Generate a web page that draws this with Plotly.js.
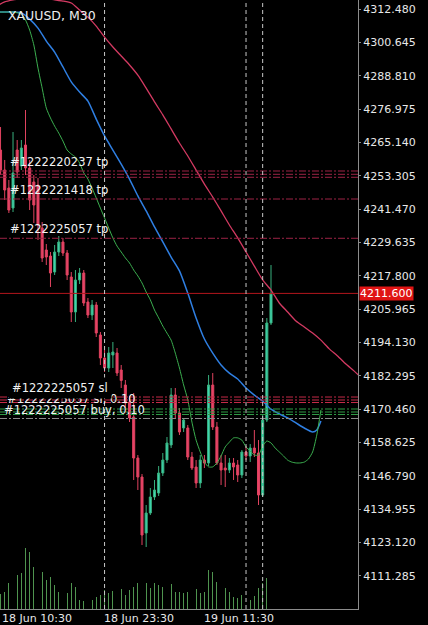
<!DOCTYPE html>
<html><head><meta charset="utf-8">
<script src="https://cdn.plot.ly/plotly-3.0.1.min.js"></script>
<style>html,body{margin:0;padding:0;background:#000;}#chart{width:428px;height:625px;}</style>
</head><body><div id="chart"></div>
<script>
const symbolTitle = 'XAUUSD, M30';

// OHLC per M30 bar (first bar is partly cut at the left edge)
const open = [4262.52,4255.42,4249.02,4241.92,4262.52,4256.84,4264.29,4256.13,4251.16,4250.09,4234.82,4227.01,4224.88,4219.20,4226.30,4229.85,4225.94,4217.42,4205.00,4216.36,4218.84,4208.55,4203.93,4207.48,4196.83,4188.66,4185.11,4189.73,4190.44,4184.40,4179.07,4173.04,4167.71,4153.15,4146.41,4126.52,4133.62,4139.31,4140.73,4147.83,4152.44,4157.77,4175.52,4169.13,4163.81,4163.81,4153.51,4149.96,4144.28,4152.44,4151.38,4179.07,4164.16,4151.38,4149.60,4148.89,4151.38,4150.67,4147.12,4155.28,4153.86,4156.70,4154.93,4140.02,4166.65,4201.09];
const high = [4270.68,4258.97,4251.87,4268.91,4266.07,4266.07,4276.72,4258.97,4253.64,4252.58,4236.95,4229.14,4226.30,4228.79,4231.98,4231.27,4227.01,4219.20,4219.91,4220.62,4219.91,4209.97,4209.26,4208.55,4197.89,4191.50,4192.57,4194.34,4192.21,4186.18,4180.85,4175.17,4176.23,4154.22,4147.47,4136.46,4142.50,4145.34,4150.31,4154.93,4160.61,4178.01,4178.01,4170.91,4167.36,4164.87,4155.28,4152.44,4154.22,4154.22,4182.62,4183.33,4165.94,4154.22,4154.22,4153.15,4153.15,4152.44,4155.99,4157.41,4158.12,4163.10,4159.54,4168.42,4202.86,4221.68];
const low = [4253.64,4244.76,4240.15,4240.50,4252.58,4255.42,4253.64,4241.21,4236.60,4230.56,4222.75,4221.68,4213.87,4218.13,4224.88,4224.88,4216.36,4201.44,4201.44,4214.94,4207.13,4202.86,4202.15,4196.12,4186.18,4183.69,4183.69,4185.11,4182.27,4178.01,4170.91,4165.94,4145.34,4141.79,4122.26,4121.55,4132.91,4138.24,4139.66,4146.76,4151.38,4156.70,4167.36,4161.32,4162.39,4152.44,4148.89,4142.50,4142.50,4149.60,4150.31,4163.10,4150.67,4143.57,4142.86,4147.83,4145.34,4144.63,4146.05,4152.44,4151.73,4153.51,4136.46,4139.31,4165.94,4200.38];
const close = [4255.42,4248.31,4241.21,4254.35,4254.71,4263.23,4256.13,4244.76,4242.99,4235.89,4224.17,4224.52,4218.84,4226.30,4229.85,4225.94,4218.13,4205.00,4216.36,4218.84,4208.19,4203.93,4207.48,4197.54,4188.66,4185.11,4190.44,4190.79,4183.33,4180.68,4172.68,4167.36,4153.15,4146.41,4125.81,4133.62,4139.31,4141.79,4147.83,4152.44,4158.48,4175.52,4169.13,4162.39,4166.65,4153.51,4149.60,4144.28,4152.44,4151.38,4179.07,4164.16,4151.38,4148.89,4148.89,4151.38,4149.96,4147.12,4155.28,4153.86,4156.70,4154.93,4140.02,4166.65,4201.09,4211.60];
const tickVolume = [1500,1730,2600,2400,3400,3600,6100,5700,4200,3700,3700,2900,3200,2400,1700,1600,1600,2600,2200,900,800,700,900,1200,1400,1900,1600,1800,1400,2000,1400,1900,2200,2600,2500,2600,2100,2600,2400,2200,1900,2500,1700,1700,1600,1700,1800,2000,1600,1700,3900,3700,2700,2400,2100,1700,1200,1100,1400,1600,900,1300,2100,2600,3100,800];

// Moving averages (shifted forward, so they run past the last bar)
const maRedBars = [-2,0,2,4,6,8,10,12,14,16,18,20,22,24,26,28,30,32,34,36,38,40,42,44,46,48,50,52,54,56,58,60,62,64,66,68,70,72,74,76,78,80,82,84,86];
const maRedValues = [4313.6,4315.1,4315.8,4316.3,4317.2,4317.2,4316.5,4315.8,4315.4,4314.7,4312.2,4309.7,4306.5,4302.6,4299.1,4295.9,4292.7,4289.1,4284.5,4279.6,4275.0,4270.0,4265.0,4260.4,4255.4,4250.4,4245.8,4240.9,4235.9,4231.3,4226.3,4221.3,4216.4,4212.8,4208.2,4205.0,4201.8,4199.7,4197.5,4195.0,4191.9,4189.4,4186.5,4184.0,4181.2];
const maBlueBars = [-2,0,2,4,6,8,10,12,14,16,18,20,22,24,26,28,30,32,34,36,38,40,42,44,46,48,50,52,54,56,58,60,62,64,66,68,70,72,74,75,76];
const maBlueValues = [4311.5,4311.5,4311.5,4311.2,4309.0,4305.8,4301.2,4297.3,4292.0,4286.7,4283.1,4279.9,4273.5,4267.5,4262.5,4257.5,4252.2,4246.2,4240.9,4235.2,4229.9,4224.5,4219.6,4211.7,4202.9,4195.4,4190.4,4186.2,4183.3,4181.2,4178.0,4175.5,4173.4,4170.5,4168.8,4167.4,4165.6,4163.8,4162.4,4163.1,4166.3];
const maGreenBars = [-2,0,2,4,5,6,7,8,9,10,11,12,13,14,15,16,17,18,19,20,21,22,23,24,25,26,27,28,29,30,31,32,33,34,35,36,37,38,39,40,41,42,43,44,45,46,47,48,49,50,51,52,53,54,55,56,57,58,59,60,61,62,63,64,65,66,67,68,69,70,71,72,73,74,75,76];
const maGreenValues = [4311.5,4311.5,4311.5,4310.8,4308.7,4305.1,4299.8,4291.6,4284.5,4277.4,4273.9,4271.0,4268.5,4265.7,4262.5,4261.1,4260.0,4257.9,4254.4,4252.2,4249.0,4245.5,4241.9,4238.4,4234.8,4231.3,4228.4,4226.3,4224.2,4222.4,4219.9,4217.8,4215.3,4212.1,4209.3,4205.7,4202.9,4200.0,4197.5,4195.0,4190.4,4185.1,4179.1,4173.8,4165.9,4159.5,4155.3,4151.7,4150.0,4150.0,4151.4,4153.9,4157.1,4158.8,4160.3,4160.3,4159.5,4157.1,4155.6,4154.2,4154.2,4157.4,4159.2,4158.5,4156.7,4155.3,4153.9,4152.4,4151.7,4151.4,4151.4,4151.7,4152.8,4155.3,4161.3,4170.2];

// Axis labels
const priceTicks = [4111.285,4123.120,4134.955,4146.790,4158.625,4170.460,4182.295,4194.130,4205.965,4217.800,4229.635,4241.470,4253.305,4265.140,4276.975,4288.810,4300.645,4312.480];
const timeLabels = ['18 Jun 10:30','18 Jun 23:30','19 Jun 11:30'];
const timeLabelBars = [-2, 24, 48];
const separatorBars = [24, 58, 62];

// Trade levels
const tpLevels = [4255.06, 4253.89, 4252.83, 4245.12, 4231.17];
const slLevels = [4174.81, 4173.75, 4172.86];
const orderLevels = [4170.55, 4169.49, 4168.60];
const entryLevel = 4167.18;
const bidPrice = 4211.60;
const tradeLabelTexts = ['#1222220237 tp','#1222221418 tp','#1222225057 tp','#1222225057 sl, 0.10','#1222225057 buy, 0.10','#1222225057 sl'];
const tradeLabelLevels = [4255.06, 4245.12, 4231.17, 4170.55, 4167.18, 4174.81];

const X0 = -1.13, X1 = 84.91, Y0 = 4099.54, Y1 = 4315.78;
const PW = 358;
const barX = open.map((_, k) => k - 1);
const FONT = 'DejaVu Sans';

const traces = [
  {type:'bar', x:barX, y:tickVolume, yaxis:'y2', width:0.2,
   marker:{color:'#4f944f', line:{width:0}}, hoverinfo:'skip'},
  {type:'candlestick', x:barX, open:open, high:high, low:low, close:close,
   whiskerwidth:0,
   increasing:{line:{color:'#38b07e', width:1}, fillcolor:'#3fd6b4'},
   decreasing:{line:{color:'#e0435f', width:1}, fillcolor:'#e8436a'},
   hoverinfo:'skip'},
  {type:'scatter', mode:'lines', x:maRedBars, y:maRedValues,
   line:{color:'#d33a62', width:1.3, shape:'spline', smoothing:0.6}, hoverinfo:'skip'},
  {type:'scatter', mode:'lines', x:maBlueBars, y:maBlueValues,
   line:{color:'#2f7fe2', width:1.5, shape:'spline', smoothing:0.6}, hoverinfo:'skip'},
  {type:'scatter', mode:'lines', x:maGreenBars, y:maGreenValues,
   line:{color:'#3cb050', width:1, shape:'spline', smoothing:0.6}, hoverinfo:'skip'}
];

const shapes = [];
function hline(level, color, dash, width) {
  shapes.push({type:'line', xref:'paper', x0:0, x1:1, yref:'y', y0:level, y1:level,
    line:{color:color, width:width||1, dash:dash}});
}
tpLevels.forEach(l => hline(l, '#9c2345', '7px,2px,2px,2px'));
slLevels.forEach(l => hline(l, '#c62a48', '7px,2px,2px,2px'));
orderLevels.forEach(l => hline(l, '#2f9a45', '7px,2px,2px,2px'));
hline(entryLevel, '#8a8a8a', '7px,2px,2px,2px');
hline(bidPrice, '#b3161c', 'solid');
separatorBars.forEach(b => shapes.push({type:'line', xref:'x', x0:b, x1:b, yref:'paper', y0:0, y1:1,
  line:{color:'#c8c8c8', width:1, dash:'4px,3px'}}));

const labelPx = [8, 8, 8, 5, 1.5, 8];
const annotations = [];
annotations.push({xref:'paper', yref:'paper', x:5.5/PW, y:1, xanchor:'left', yanchor:'top', yshift:-6,
  text:symbolTitle, showarrow:false, font:{family:FONT, size:12.5, color:'#eeeeee'}});
tradeLabelTexts.forEach((t, k) => {
  const a = {xref:'paper', yref:'y', x:labelPx[k]/PW, y:tradeLabelLevels[k], xanchor:'left', yanchor:'bottom',
    text:t, showarrow:false, font:{family:FONT, size:11.5, color:'#f2f2f2'}, borderpad:1};
  if (k === 3) { a.yshift = 1; }
  if (k === 5) { a.bgcolor = '#000'; a.borderpad = 3; a.yshift = -2; }
  annotations.push(a);
});
timeLabels.forEach((t, k) => {
  annotations.push({xref:'x', yref:'paper', x:Math.max(timeLabelBars[k] - 0.6, X0 + 0.1), y:0,
    xanchor:'left', yanchor:'top', yshift:-1, text:t, showarrow:false,
    font:{family:FONT, size:11, color:'#e8e8e8'}});
});
annotations.push({xref:'paper', yref:'y', x:1, y:bidPrice, xanchor:'left', yanchor:'middle', xshift:1,
  text:bidPrice.toFixed(3), showarrow:false, bgcolor:'#e01414', borderpad:0,
  font:{family:FONT, size:11, color:'#ffffff'}});

const layout = {
  width:428, height:625,
  margin:{l:0, r:70, t:0, b:16, pad:0},
  paper_bgcolor:'#000', plot_bgcolor:'#000',
  showlegend:false, dragmode:false,
  xaxis:{range:[X0, X1], showgrid:false, zeroline:false, showticklabels:false,
    showline:true, linecolor:'#8c8c8c', linewidth:1, ticks:'', fixedrange:true,
    rangeslider:{visible:false}},
  yaxis:{range:[Y0, Y1], side:'right', showgrid:false, zeroline:false,
    tickvals:priceTicks, ticktext:priceTicks.map(v => v.toFixed(3)),
    ticks:'outside', ticklen:2, tickcolor:'#8c8c8c',
    showline:true, linecolor:'#8c8c8c', linewidth:1,
    tickfont:{family:FONT, size:11, color:'#e8e8e8'}, fixedrange:true},
  yaxis2:{overlaying:'y', range:[0, 60900], visible:false, fixedrange:true},
  bargap:0,
  shapes:shapes,
  annotations:annotations
};

Plotly.newPlot('chart', traces, layout, {staticPlot:true, displayModeBar:false});
</script>
</body></html>
